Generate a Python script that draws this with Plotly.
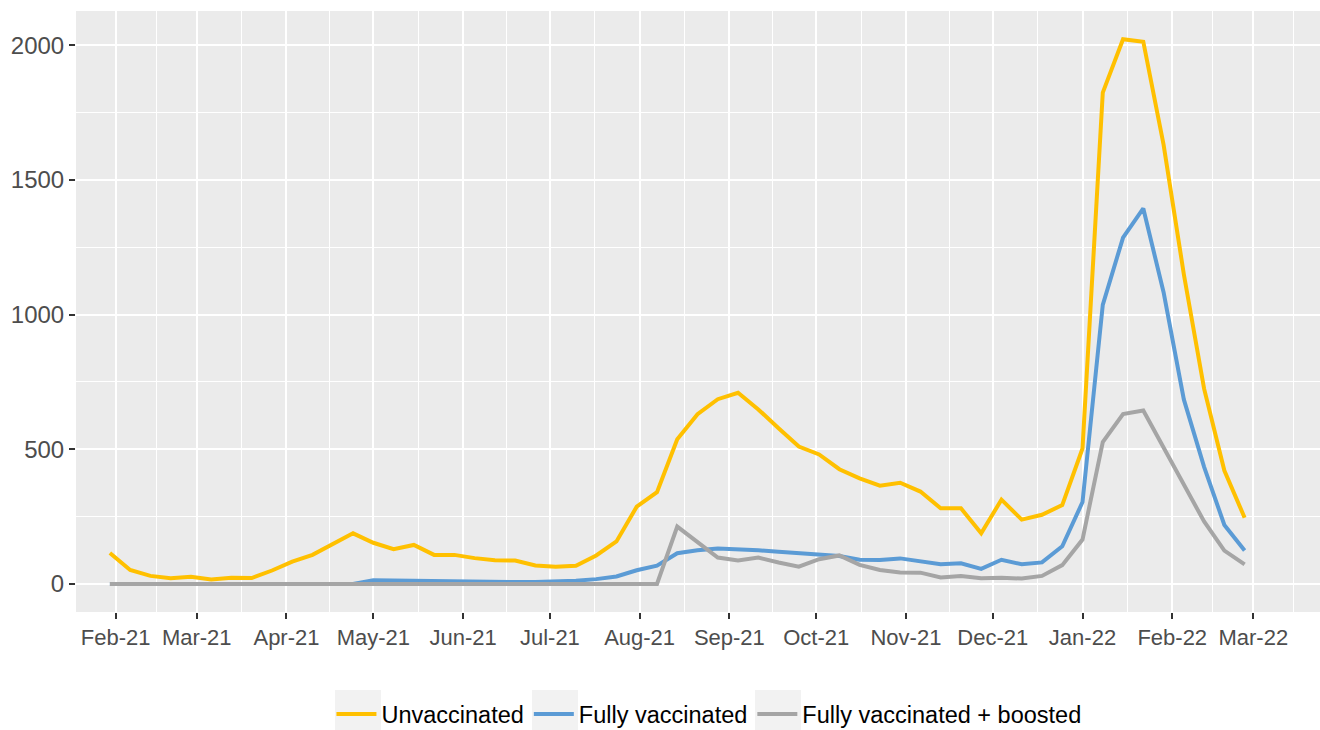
import pandas as pd
import plotly.graph_objects as go

# ---- data (weekly) ----
dates = pd.date_range("2021-01-30", periods=57, freq="7D")

unvaccinated = [115, 52, 30, 21, 27, 17, 23, 22, 50, 83, 108, 147, 188, 153, 129, 145,
                108, 108, 96, 88, 87, 69, 64, 68, 106, 158, 287, 341, 537, 630, 686, 710,
                648, 578, 510, 481, 426, 392, 365, 376, 343, 281, 281, 188, 313, 239, 257,
                293, 503, 1824, 2022, 2013, 1631, 1150, 725, 421, 246]

fully_vaccinated = [0, 0, 0, 0, 0, 0, 0, 0, 0, 0, 0, 0, 0, 14, 13, 11, 8, 7, 7, 7, 7, 7, 8,
                    12, 18, 28, 51, 68, 114, 125, 132, 130, 125, 120, 114, 109, 104, 90, 89,
                    95, 84, 73, 77, 56, 90, 73, 80, 140, 304, 1036, 1286, 1394, 1083, 685,
                    435, 219, 124]

boosted = [0] * 28 + [213, 157, 98, 87, 98, 80, 64, 92, 106, 71, 52, 43, 42, 24, 30, 21, 23,
                      20, 30, 70, 165, 527, 631, 644, 509, 374, 232, 124, 73]

series_names = ["Unvaccinated", "Fully vaccinated", "Fully vaccinated + boosted"]
series_colors = ["#FFC000", "#5B9BD5", "#A5A5A5"]

# tick labels / breaks
major_ticks = pd.date_range("2021-02-01", "2022-03-01", freq="MS")
tick_text = [d.strftime("%b-%y") for d in major_ticks]
y_major = [0, 500, 1000, 1500, 2000]
y_minor = [250, 750, 1250, 1750]

# minor x breaks: midpoints between majors, extended one step at the end (ggplot style)
ext = list(major_ticks) + [major_ticks[-1] + (major_ticks[-1] - major_ticks[-2])]
x_minor = [a + (b - a) / 2 for a, b in zip(ext[:-1], ext[1:])]

fig = go.Figure()
for name, vals, col in zip(series_names, [unvaccinated, fully_vaccinated, boosted], series_colors):
    fig.add_trace(go.Scatter(x=dates, y=vals, mode="lines", name=name,
                             line=dict(color=col, width=4)))

# light grey legend-key backgrounds (ggplot legend.key look)
W, H = 1320, 730
ML, MR, MT, MB = 76, 0, 11, 118
pw, ph = W - ML - MR, H - MT - MB
key_boxes_px = [(335, 381), (532, 578), (755, 801)]
shapes = []
for x0, x1 in key_boxes_px:
    shapes.append(dict(type="rect", xref="paper", yref="paper",
                       x0=(x0 - ML) / pw, x1=(x1 - ML) / pw,
                       y0=(H - MB - 738) / ph, y1=(H - MB - 690) / ph,
                       fillcolor="#F2F2F2", line=dict(width=0), layer="below"))

FONT = "Liberation Sans, Arial, sans-serif"
fig.update_layout(
    width=W, height=H,
    margin=dict(l=ML, r=MR, t=MT, b=MB, autoexpand=False),
    paper_bgcolor="white",
    plot_bgcolor="#EBEBEB",
    font=dict(family=FONT, size=23, color="#4D4D4D"),
    showlegend=True,
    shapes=shapes,
    legend=dict(orientation="h", x=0.5088, xanchor="center", y=-0.17, yanchor="middle",
                font=dict(family=FONT, size=23.5, color="black"),
                itemwidth=40, bgcolor="rgba(0,0,0,0)", traceorder="normal"),
    xaxis=dict(
        type="date", automargin=False,
        range=["2021-01-18 07:00", "2022-03-24 01:00"],
        tickmode="array", tickvals=list(major_ticks), ticktext=tick_text,
        showgrid=True, gridcolor="white", gridwidth=2,
        minor=dict(tickmode="array", tickvals=x_minor, showgrid=True,
                   gridcolor="white", gridwidth=1, ticks=""),
        ticks="outside", ticklen=6, tickwidth=1.5, tickcolor="#333333",
        tickfont=dict(size=22, color="#4D4D4D"),
        zeroline=False, showline=False, fixedrange=True,
    ),
    yaxis=dict(
        automargin=False,
        range=[-104, 2127],
        tickmode="array", tickvals=y_major,
        showgrid=True, gridcolor="white", gridwidth=2,
        minor=dict(tickmode="array", tickvals=y_minor, showgrid=True,
                   gridcolor="white", gridwidth=1, ticks=""),
        ticks="outside", ticklen=6, tickwidth=1.5, tickcolor="#333333",
        tickfont=dict(size=24, color="#4D4D4D"),
        zeroline=False, showline=False, fixedrange=True,
    ),
)

fig.write_html("out.html", config={"displayModeBar": False},
               post_script="document.body.style.margin='0px';")
